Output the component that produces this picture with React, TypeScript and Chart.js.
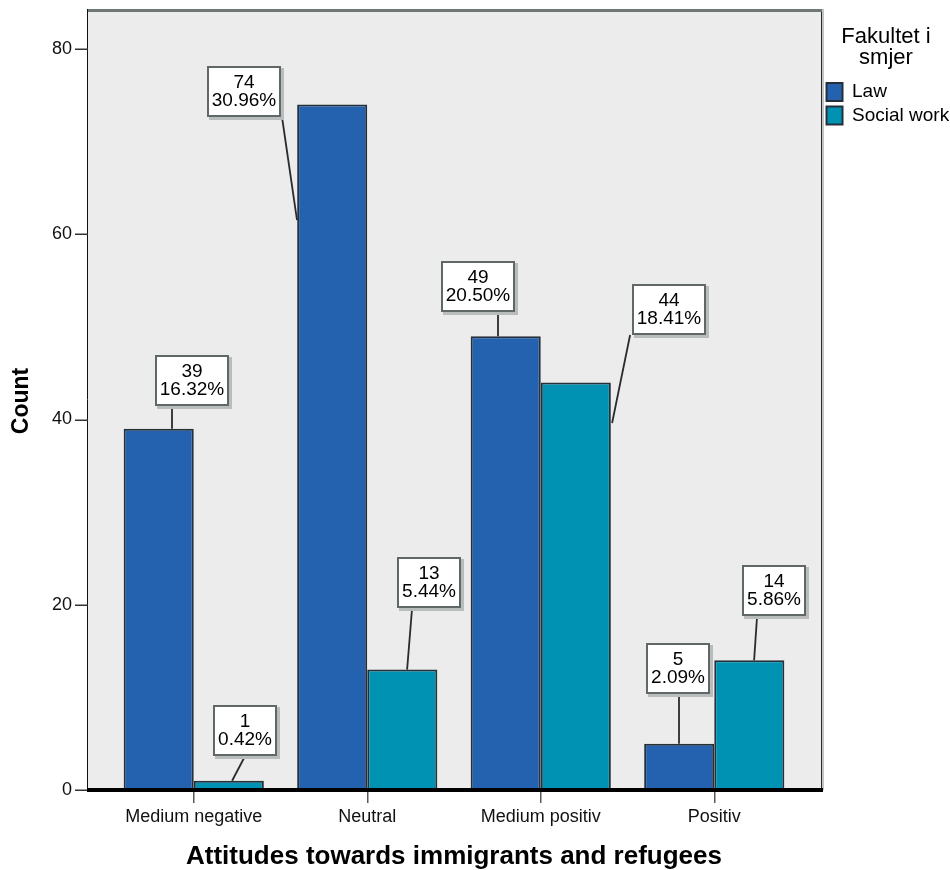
import React, { useEffect, useRef } from "react";
import { Chart, registerables } from "chart.js";

Chart.register(...registerables);

// ---- data ----
const categories = ["Medium negative", "Neutral", "Medium positiv", "Positiv"];
const seriesNames = ["Law", "Social work"];
const lawCounts = [39, 74, 49, 5];
const socialCounts = [1, 13, 44, 14];
const lawPercents = ["16.32%", "30.96%", "20.50%", "2.09%"];
const socialPercents = ["0.42%", "5.44%", "18.41%", "5.86%"];
const yMax = 84;
const yStep = 20;
const legendTitle = ["Fakultet i", "smjer"];
const xTitle = "Attitudes towards immigrants and refugees";
const yTitle = "Count";

// ---- styling / placement (not data) ----
const FONT = '"Liberation Sans", Arial, sans-serif';
const lawColor = "#2461ae";
const socialColor = "#0092b2";
const barBorder = "#25303a";

// callout placement per bar: [box dx from bar centre, box dy from bar top,
//  leader start dx from box centre (box bottom), leader end dx from bar centre, leader end dy from bar top]
const lawCallouts = [
  [32.8, -48.3, -19.5, 13.3, 0],
  [-88.7, -13, 38.5, -35.2, 115.4],
  [-27.7, -49.7, 20, -7.7, 0],
  [-1.2, -74.7, 1, -0.2, 0],
];
const socialCallouts = [
  [16.3, -50.7, 0, 3.3, 0],
  [26.3, -87.1, -16.5, 4.8, 0],
  [93.3, -72.5, -39, 36.3, 40.5],
  [24.8, -70.3, -17, 4.8, 0],
];

const PANEL_LEFT_EXTRA = 19;
const PANEL_RIGHT_EXTRA = 21;

const panelPlugin = {
  id: "spssPanel",
  beforeDatasetsDraw(chart: any) {
    const { ctx, chartArea: a } = chart;
    const L = a.left - PANEL_LEFT_EXTRA;
    const R = a.right + PANEL_RIGHT_EXTRA;
    ctx.save();
    ctx.fillStyle = "#ececec";
    ctx.fillRect(L, a.top, R - L, a.bottom - a.top);
    ctx.restore();
  },
  afterDatasetsDraw(chart: any) {
    const { ctx, chartArea: a } = chart;
    const L = a.left - PANEL_LEFT_EXTRA;
    const R = a.right + PANEL_RIGHT_EXTRA;
    ctx.save();
    // top border
    ctx.strokeStyle = "#6f7777";
    ctx.lineWidth = 3;
    ctx.beginPath();
    ctx.moveTo(L, a.top - 1.5);
    ctx.lineTo(R + 2, a.top - 1.5);
    ctx.stroke();
    // left border
    ctx.strokeStyle = "#111";
    ctx.lineWidth = 1;
    ctx.beginPath();
    ctx.moveTo(L - 0.5, a.top - 3);
    ctx.lineTo(L - 0.5, a.bottom);
    ctx.stroke();
    // right border
    ctx.strokeStyle = "#2a2a2a";
    ctx.beginPath();
    ctx.moveTo(R - 0.5, a.top);
    ctx.lineTo(R - 0.5, a.bottom);
    ctx.stroke();
    ctx.strokeStyle = "#c2c4c4";
    ctx.lineWidth = 2;
    ctx.beginPath();
    ctx.moveTo(R + 1, a.top - 3);
    ctx.lineTo(R + 1, a.bottom);
    ctx.stroke();
    // y tick marks
    const ys = chart.scales.y;
    ctx.strokeStyle = "#333";
    ctx.lineWidth = 1.5;
    ys.ticks.forEach((t: any) => {
      const py = Math.round(ys.getPixelForValue(t.value)) + 0.25;
      ctx.beginPath();
      ctx.moveTo(L - 13, py);
      ctx.lineTo(L, py);
      ctx.stroke();
    });
    // x axis line
    ctx.strokeStyle = "#000";
    ctx.lineWidth = 4;
    ctx.beginPath();
    ctx.moveTo(L - 1, a.bottom);
    ctx.lineTo(R + 1, a.bottom);
    ctx.stroke();

    // callouts
    const layouts = [lawCallouts, socialCallouts];
    const pcts = [lawPercents, socialPercents];
    ctx.font = `19px ${FONT}`;
    chart.data.datasets.forEach((ds: any, di: number) => {
      const meta = chart.getDatasetMeta(di);
      meta.data.forEach((el: any, j: number) => {
        const { x, y } = el.getProps(["x", "y"], true);
        const [bdx, bdy, lsx, ex, ey] = layouts[di][j];
        const lines = [String(ds.data[j]), pcts[di][j]];
        const w = Math.round(Math.max(...lines.map((t) => ctx.measureText(t).width)) + 10);
        const h = 51;
        const cx = x + bdx;
        const cy = y + bdy;
        const left = Math.round(cx - w / 2);
        const top = Math.round(cy - h / 2);
        // leader
        ctx.strokeStyle = "#2b2b2b";
        ctx.lineWidth = 1.8;
        ctx.beginPath();
        ctx.moveTo(cx + lsx, top + h);
        ctx.lineTo(x + ex, y + ey);
        ctx.stroke();
        // shadow
        ctx.fillStyle = "#b9bcbc";
        ctx.fillRect(left + 2, top + 2, w + 1, h + 1);
        // box
        ctx.fillStyle = "#ffffff";
        ctx.fillRect(left, top, w, h);
        ctx.strokeStyle = "#5f6767";
        ctx.lineWidth = 2;
        ctx.strokeRect(left + 1, top + 1, w - 2, h - 2);
        // text
        ctx.fillStyle = "#000";
        ctx.textAlign = "center";
        ctx.textBaseline = "middle";
        ctx.fillText(lines[0], left + w / 2, top + 17);
        ctx.fillText(lines[1], left + w / 2, top + 34.5);
      });
    });
    ctx.restore();
  },
};

export default function App() {
  const canvasRef = useRef<HTMLCanvasElement | null>(null);

  useEffect(() => {
    if (!canvasRef.current) return;
    const chart = new Chart(canvasRef.current, {
      type: "bar",
      data: {
        labels: categories,
        datasets: [
          {
            label: seriesNames[0],
            data: lawCounts,
            backgroundColor: lawColor,
            borderColor: barBorder,
            borderWidth: 2,
            xAxisID: "x",
            yAxisID: "y",
            categoryPercentage: 0.808,
            barPercentage: 1,
          },
          {
            label: seriesNames[1],
            data: socialCounts,
            backgroundColor: socialColor,
            borderColor: barBorder,
            borderWidth: 2,
            xAxisID: "x",
            yAxisID: "y",
            categoryPercentage: 0.808,
            barPercentage: 1,
          },
        ],
      },
      options: {
        responsive: false,
        animation: false,
        events: [],
        layout: { padding: { top: 12, left: 0, right: 0, bottom: 0 } },
        scales: {
          x: {
            type: "category",
            offset: true,
            grid: {
              display: true,
              drawOnChartArea: false,
              drawTicks: true,
              tickLength: 13,
              offset: false,
              color: "#5a5a5a",
              lineWidth: 1.5,
            },
            border: { display: false },
            ticks: { font: { family: FONT, size: 18 }, color: "#111", padding: 3, maxRotation: 0 },
            title: {
              display: true,
              text: xTitle,
              color: "#000",
              font: { family: FONT, size: 26, weight: "bold", lineHeight: 1 },
              padding: { top: 0, bottom: 0 },
            },
            afterFit: (s: any) => {
              s.height = 80;
              s.paddingTop = 0;
              s.paddingBottom = 0;
            },
          },
          y: {
            type: "linear",
            position: "left",
            min: 0,
            max: yMax,
            grid: { display: false, drawTicks: false },
            border: { display: false },
            ticks: {
              stepSize: yStep,
              includeBounds: false,
              padding: 35,
              font: { family: FONT, size: 18 },
              color: "#111",
            },
            title: {
              display: true,
              text: yTitle,
              color: "#000",
              font: { family: FONT, size: 23, weight: "bold" },
              padding: { top: 8, bottom: 0 },
            },
            afterFit: (s: any) => {
              s.width = 107;
              s.paddingTop = 0;
              s.paddingBottom = 0;
            },
          },
          yPad: {
            type: "linear",
            position: "right",
            display: true,
            grid: { display: false, drawTicks: false },
            border: { display: false },
            ticks: { display: false },
            afterFit: (s: any) => {
              s.width = PANEL_RIGHT_EXTRA;
              s.paddingTop = 0;
              s.paddingBottom = 0;
            },
          },
        },
        plugins: {
          tooltip: { enabled: false },
          legend: {
            display: true,
            position: "right",
            align: "start",
            maxWidth: 128,
            title: {
              display: true,
              text: legendTitle,
              color: "#000",
              font: { family: FONT, size: 22, lineHeight: 21 / 22 },
              padding: { top: 14, bottom: 31 },
            },
            labels: {
              color: "#000",
              font: { family: FONT, size: 19 },
              boxWidth: 16,
              boxHeight: 18,
              padding: 4.5,
            },
          },
        },
      },
      plugins: [panelPlugin],
    } as any);
    return () => chart.destroy();
  }, []);

  return (
    <div style={{ position: "absolute", left: 0, top: 0, width: 950, height: 870, overflow: "hidden", background: "#fff" }}>
      <canvas ref={canvasRef} width={950} height={870} style={{ display: "block" }} />
    </div>
  );
}
